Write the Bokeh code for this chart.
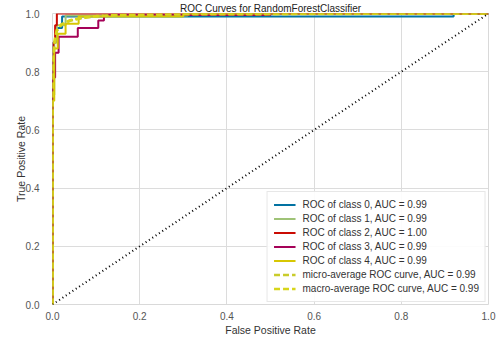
from bokeh.plotting import figure
from bokeh.models import Range1d, Legend, LegendItem, FixedTicker, PrintfTickFormatter
from bokeh.embed import file_html
from bokeh.resources import INLINE

# ---- data ----
class_names = ["ROC of class 0, AUC = 0.99", "ROC of class 1, AUC = 0.99",
               "ROC of class 2, AUC = 1.00", "ROC of class 3, AUC = 0.99",
               "ROC of class 4, AUC = 0.99"]
fpr0 = [0, 0, 0.002, 0.002, 0.008, 0.008, 0.022, 0.022, 0.92, 0.92, 1.0]
tpr0 = [0, 0.78, 0.78, 0.90, 0.90, 0.95, 0.95, 0.99, 0.99, 1.0, 1.0]
fpr1 = [0, 0, 0.004, 0.004, 0.01, 0.01, 0.03, 0.03, 0.31, 0.31, 1.0]
tpr1 = [0, 0.72, 0.72, 0.90, 0.90, 0.96, 0.96, 0.993, 0.993, 1.0, 1.0]
fpr2 = [0, 0, 0.002, 0.002, 0.006, 0.006, 0.01, 0.01, 1.0]
tpr2 = [0, 0.84, 0.84, 0.90, 0.90, 0.96, 0.96, 1.0, 1.0]
fpr3 = [0, 0, 0.006, 0.006, 0.014, 0.014, 0.058, 0.058, 0.105, 0.105, 0.118, 0.118, 0.5, 0.5, 1.0]
tpr3 = [0, 0.78, 0.78, 0.865, 0.865, 0.92, 0.92, 0.95, 0.95, 0.976, 0.976, 0.995, 0.995, 1.0, 1.0]
fpr4 = [0, 0, 0.004, 0.004, 0.012, 0.012, 0.03, 0.03, 0.06, 0.06, 0.3, 0.3, 1.0]
tpr4 = [0, 0.70, 0.70, 0.88, 0.88, 0.93, 0.93, 0.965, 0.965, 0.99, 0.99, 1.0, 1.0]
fpr_micro = [0, 0, 0.002, 0.005, 0.01, 0.02, 0.04, 0.07, 0.1, 0.15, 0.3, 1.0]
tpr_micro = [0, 0.70, 0.85, 0.90, 0.94, 0.96, 0.975, 0.985, 0.99, 0.994, 0.997, 1.0]
fpr_macro = [0, 0, 0.002, 0.005, 0.01, 0.02, 0.04, 0.07, 0.1, 0.15, 0.3, 1.0]
tpr_macro = [0, 0.72, 0.86, 0.91, 0.945, 0.963, 0.977, 0.986, 0.991, 0.995, 0.998, 1.0]
micro_label = "micro-average ROC curve, AUC = 0.99"
macro_label = "macro-average ROC curve, AUC = 0.99"
diag_x = [0, 1]
diag_y = [0, 1]
ticks = [0.0, 0.2, 0.4, 0.6, 0.8, 1.0]
title_text = "ROC Curves for RandomForestClassifier"

colors = ["#0272a2", "#9fc377", "#ca0b03", "#a50258", "#d7c703"]

p = figure(width=496, height=338, output_backend="svg", toolbar_location=None,
           x_range=Range1d(0, 1), y_range=Range1d(0, 1),
           min_border_left=52, min_border_right=8, min_border_top=13, min_border_bottom=33)
p.background_fill_color = "white"
p.border_fill_color = "white"
p.outline_line_color = "#d9d9d9"

p.title.text = title_text
p.title.align = "center"
p.title.text_font = "Liberation Sans"
p.title.text_font_size = "10px"
p.title.text_font_style = "normal"
p.title.text_color = "#222222"
p.title.standoff = 0
p.title.offset = 0

for ax in (p.xaxis[0], p.yaxis[0]):
    ax.ticker = FixedTicker(ticks=ticks)
    ax.formatter = PrintfTickFormatter(format="%.1f")
    ax.axis_line_color = None
    ax.major_tick_line_color = None
    ax.minor_tick_line_color = None
    ax.major_label_text_font = "Liberation Sans"
    ax.major_label_text_font_size = "10px"
    ax.major_label_text_color = "#555555"
    ax.axis_label_text_font = "Liberation Sans"
    ax.axis_label_text_font_size = "10.5px"
    ax.axis_label_text_font_style = "normal"
    ax.axis_label_text_color = "#333333"
p.xaxis.axis_label = "False Positive Rate"
p.yaxis.axis_label = "True Positive Rate"
p.xaxis.major_label_standoff = 1
p.xaxis.axis_label_standoff = 1
p.yaxis.major_label_standoff = 7
p.yaxis.axis_label_standoff = -4
p.xgrid.grid_line_color = "#dcdcdc"
p.ygrid.grid_line_color = "#dcdcdc"

renderers = []
for fx, ty, c in zip([fpr0, fpr1, fpr2, fpr3, fpr4], [tpr0, tpr1, tpr2, tpr3, tpr4], colors):
    renderers.append(p.line(fx, ty, line_color=c, line_width=2))
r_micro = p.line(fpr_micro, tpr_micro, line_color="#c9cc2a", line_width=2.5, line_dash="6 3")
r_macro = p.line(fpr_macro, tpr_macro, line_color="#d7d51a", line_width=2.5, line_dash="6 3")
p.line(diag_x, diag_y, line_color="black", line_width=2, line_dash="1 3")

items = [LegendItem(label=n, renderers=[r]) for n, r in zip(class_names, renderers)]
items.append(LegendItem(label=micro_label, renderers=[r_micro]))
items.append(LegendItem(label=macro_label, renderers=[r_macro]))
legend = Legend(items=items, location="bottom_right")
legend.label_text_font = "Liberation Sans"
legend.label_text_font_size = "10px"
legend.label_text_color = "#333333"
legend.label_height = 13
legend.glyph_height = 13
legend.glyph_width = 22
legend.label_standoff = 7
legend.spacing = 1
legend.padding = 6
legend.margin = 2
legend.border_line_color = "#d0d0d0"
legend.background_fill_color = "white"
legend.background_fill_alpha = 0.9
p.add_layout(legend, "center")

open("out.html", "w").write(file_html(p, INLINE))
